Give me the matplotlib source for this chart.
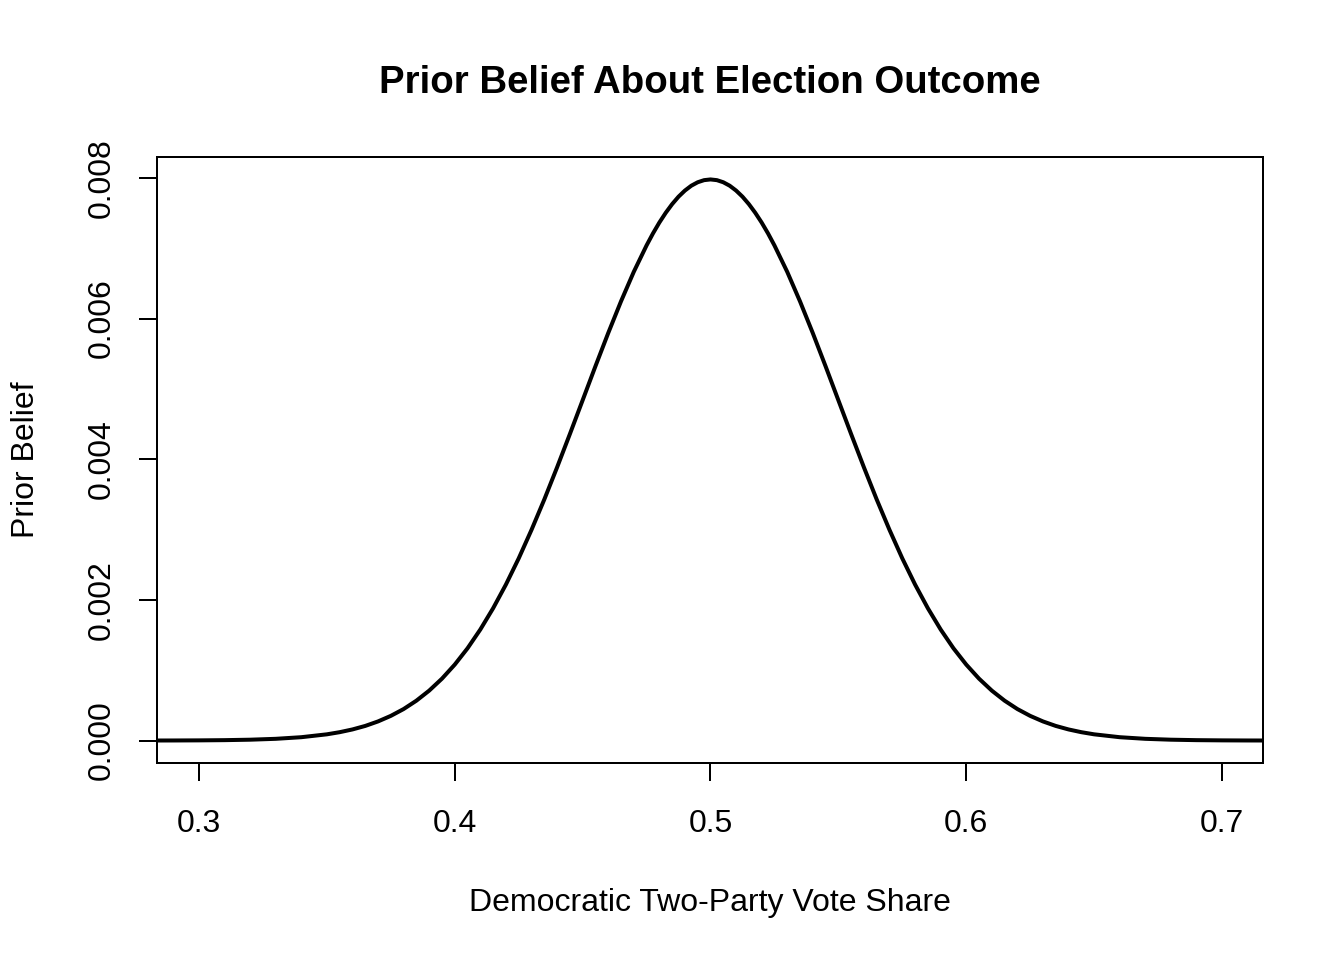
import matplotlib
matplotlib.use("Agg")
import matplotlib.pyplot as plt

plt.rcParams['font.family'] = ['Liberation Sans', 'DejaVu Sans']

# Vote share grid and prior belief values
vote_share = [0.28, 0.29, 0.30, 0.31, 0.32, 0.33, 0.34, 0.35,
              0.355, 0.36, 0.365, 0.37, 0.375, 0.38, 0.385, 0.39, 0.395,
              0.40, 0.405, 0.41, 0.415, 0.42, 0.425, 0.43, 0.435, 0.44,
              0.445, 0.45, 0.455, 0.46, 0.465, 0.47, 0.475, 0.4775, 0.48,
              0.4825, 0.485, 0.4875, 0.49, 0.4925, 0.495, 0.4975, 0.50,
              0.5025, 0.505, 0.5075, 0.51, 0.5125, 0.515, 0.5175, 0.52,
              0.5225, 0.525, 0.53,
              0.535, 0.54, 0.545, 0.55, 0.555, 0.56, 0.565, 0.57, 0.575,
              0.58, 0.585, 0.59, 0.595, 0.60, 0.605, 0.61, 0.615, 0.62,
              0.625, 0.63, 0.635, 0.64, 0.645, 0.65, 0.66, 0.67, 0.68,
              0.69, 0.70, 0.71, 0.72]
prior_belief = [0.0000005, 0.0000012, 0.0000027, 0.0000058, 0.0000122,
                0.0000247, 0.0000477, 0.0000886,
                0.000119, 0.000158, 0.000208, 0.000272, 0.000351, 0.000448,
                0.000567, 0.000710, 0.000880, 0.001080, 0.001312, 0.001579,
                0.001881, 0.002218, 0.002590, 0.002995, 0.003427, 0.003884,
                0.004357, 0.004839, 0.005322, 0.005794, 0.006245, 0.006665,
                0.007041, 0.007211, 0.007366,
                0.007505, 0.007628, 0.007734, 0.007821, 0.007890, 0.007939,
                0.007969, 0.007979,
                0.007969, 0.007939, 0.007890, 0.007821, 0.007734, 0.007628,
                0.007505, 0.007366, 0.007211, 0.007041, 0.006665,
                0.006245, 0.005794, 0.005322, 0.004839, 0.004357, 0.003884,
                0.003427, 0.002995, 0.002590, 0.002218, 0.001881, 0.001579,
                0.001312, 0.001080, 0.000880, 0.000710, 0.000567, 0.000448,
                0.000351, 0.000272, 0.000208, 0.000158, 0.000119,
                0.0000886, 0.0000477, 0.0000247, 0.0000122, 0.0000058,
                0.0000027, 0.0000012, 0.0000005]

x_ticks = [0.3, 0.4, 0.5, 0.6, 0.7]
x_tick_labels = ["0.3", "0.4", "0.5", "0.6", "0.7"]
y_ticks = [0.000, 0.002, 0.004, 0.006, 0.008]
y_tick_labels = ["0.000", "0.002", "0.004", "0.006", "0.008"]

fig = plt.figure(figsize=(7, 5), dpi=192)
ax = fig.add_axes([157/1344, 1 - 763/960, (1263-157)/1344, (763-157)/960])

ax.plot(vote_share, prior_belief, color='black', linewidth=1.5,
        solid_capstyle='butt', solid_joinstyle='round')

ax.set_xlim(0.28358, 0.71603)
ymax = max(prior_belief)
ax.set_ylim(-0.04*ymax, 1.04*ymax)

ax.set_xticks(x_ticks)
ax.set_xticklabels(x_tick_labels)
ax.set_yticks(y_ticks)
ax.set_yticklabels(y_tick_labels, rotation=90, va='center')

ax.tick_params(axis='both', direction='out', length=6.75, width=0.75,
               labelsize=12, colors='black')
ax.tick_params(axis='x', pad=10.5)
ax.tick_params(axis='y', pad=8.5)
for s in ax.spines.values():
    s.set_linewidth(0.75)

ax.set_title("Prior Belief About Election Outcome", fontsize=14.4,
             fontweight='bold', pad=24)
ax.set_xlabel("Democratic Two-Party Vote Share", fontsize=12, labelpad=18.5)
ax.set_ylabel("Prior Belief", fontsize=12, labelpad=17)

fig.savefig("out.png", dpi=192)
